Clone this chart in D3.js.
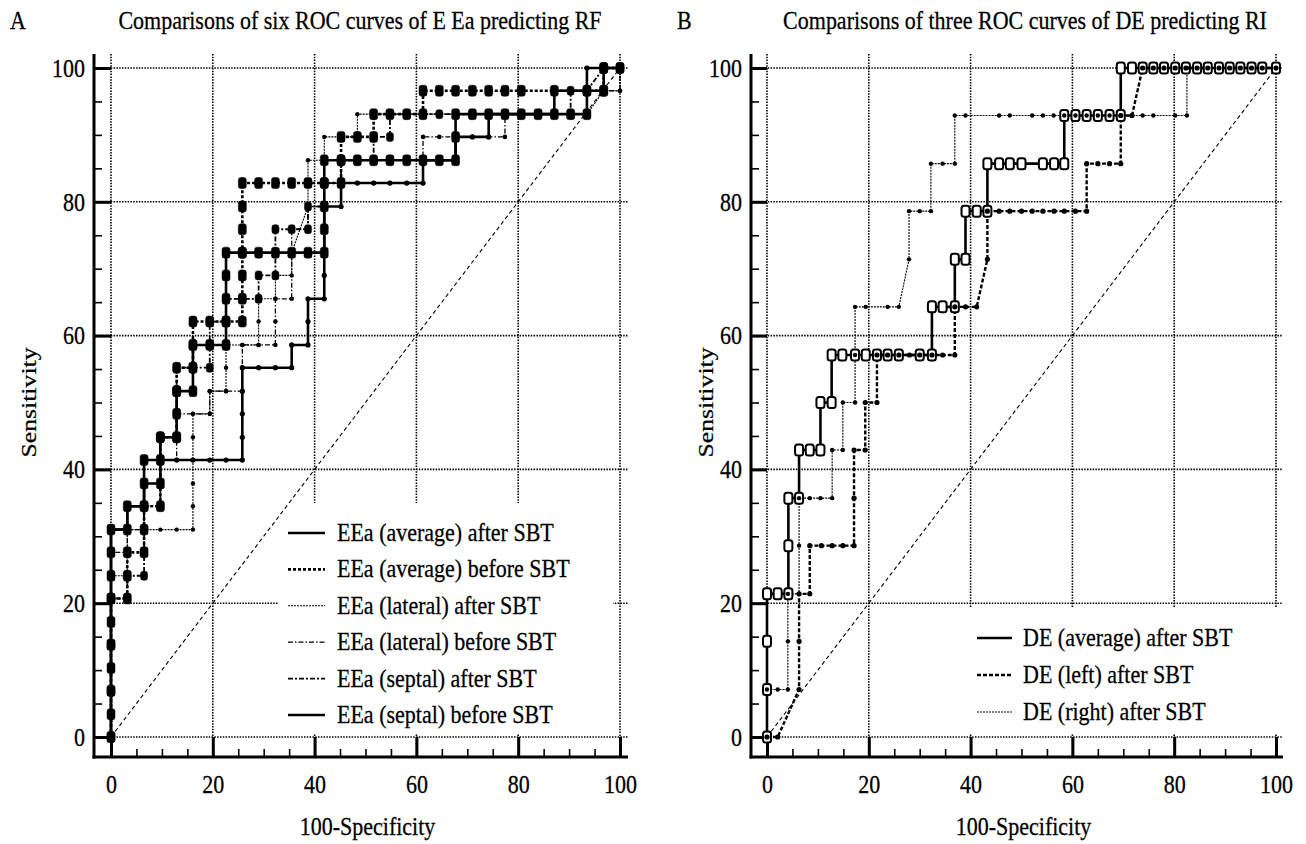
<!DOCTYPE html>
<html>
<head>
<meta charset="utf-8">
<script src="https://cdn.jsdelivr.net/npm/d3@7"></script>
<style>
  body { margin: 0; background: #fff; }
  text { font-family: 'Liberation Serif', 'Times New Roman', serif; font-size: 22px; fill: #000; stroke: #000; stroke-width: 0.25px; }
</style>
</head>
<body>
<script>
// ---- data ----
const xTickValues = [0, 20, 40, 60, 80, 100]
const yTickValues = [0, 20, 40, 60, 80, 100]
const minorTickValues = d3.range(0, 101, 5).filter(d => d % 20 !== 0)

const titleA = 'Comparisons of six ROC curves of E Ea predicting RF'
const titleB = 'Comparisons of three ROC curves of DE predicting RI'
const xLabel = '100-Specificity'
const yLabel = 'Sensitivity'

const namesA = [
  'EEa (average) after SBT',
  'EEa (average) before SBT',
  'EEa (lateral) after SBT',
  'EEa (lateral) before SBT',
  'EEa (septal) after SBT',
  'EEa (septal) before SBT'
]
const namesB = ['DE (average) after SBT', 'DE (left) after SBT', 'DE (right) after SBT']

// [100-specificity, sensitivity]
const eeaAvgAfter = [[0,0],[0,3.4],[0,6.9],[0,10.3],[0,13.8],[0,17.2],[0,20.7],[0,24.1],[0,27.6],[0,31.0],[3.2,31.0],[3.2,34.5],[6.5,34.5],[6.5,37.9],[6.5,41.4],[9.7,41.4],[9.7,44.8],[12.9,44.8],[12.9,48.3],[12.9,51.7],[16.1,51.7],[16.1,55.2],[16.1,58.6],[19.4,58.6],[22.6,58.6],[22.6,62.1],[22.6,65.5],[22.6,69.0],[22.6,72.4],[25.8,72.4],[29.0,72.4],[32.3,72.4],[35.5,72.4],[38.7,72.4],[41.9,72.4],[41.9,75.9],[41.9,79.3],[41.9,82.8],[41.9,86.2],[45.2,86.2],[48.4,86.2],[51.6,86.2],[54.8,86.2],[58.1,86.2],[61.3,86.2],[64.5,86.2],[67.7,86.2],[67.7,89.7],[67.7,93.1],[71.0,93.1],[74.2,93.1],[77.4,93.1],[80.6,93.1],[83.9,93.1],[87.1,93.1],[90.3,93.1],[93.5,93.1],[93.5,96.6],[96.8,96.6],[96.8,100],[100,100]]
const eeaAvgBefore = [[0,0],[0,6.9],[0,13.8],[0,20.7],[3.2,20.7],[3.2,24.1],[3.2,27.6],[6.5,27.6],[6.5,31.0],[6.5,34.5],[9.7,34.5],[9.7,37.9],[9.7,44.8],[12.9,44.8],[12.9,51.7],[12.9,55.2],[16.1,55.2],[16.1,58.6],[16.1,62.1],[19.4,62.1],[22.6,62.1],[25.8,62.1],[25.8,65.5],[25.8,69.0],[25.8,72.4],[25.8,75.9],[25.8,79.3],[25.8,82.8],[29.0,82.8],[32.3,82.8],[35.5,82.8],[38.7,82.8],[41.9,82.8],[45.2,82.8],[45.2,86.2],[45.2,89.7],[48.4,89.7],[51.6,89.7],[51.6,93.1],[54.8,93.1],[58.1,93.1],[61.3,93.1],[61.3,96.6],[64.5,96.6],[67.7,96.6],[71.0,96.6],[74.2,96.6],[77.4,96.6],[80.6,96.6],[87.1,96.6],[93.5,96.6],[96.8,96.6],[96.8,100],[100,100]]
const eeaLatAfter = [[0,0],[0,13.8],[0,24.1],[3.2,24.1],[3.2,27.6],[3.2,31.0],[6.5,31.0],[9.7,31.0],[12.9,31.0],[16.1,31.0],[16.1,34.5],[16.1,37.9],[16.1,41.4],[16.1,44.8],[16.1,48.3],[19.4,48.3],[19.4,51.7],[22.6,51.7],[22.6,55.2],[22.6,58.6],[25.8,58.6],[29.0,58.6],[29.0,62.1],[29.0,65.5],[32.3,65.5],[32.3,69.0],[35.5,69.0],[35.5,72.4],[38.7,79.3],[38.7,82.8],[38.7,86.2],[41.9,86.2],[41.9,89.7],[45.2,89.7],[48.4,89.7],[48.4,93.1],[54.8,93.1],[61.3,93.1],[67.7,93.1],[74.2,93.1],[80.6,93.1],[87.1,93.1],[93.5,93.1],[96.8,96.6],[100,96.6],[100,100]]
const eeaLatBefore = [[0,0],[0,20.7],[0,27.6],[3.2,27.6],[3.2,31.0],[6.5,31.0],[6.5,37.9],[9.7,37.9],[9.7,41.4],[12.9,41.4],[12.9,48.3],[16.1,48.3],[19.4,48.3],[19.4,51.7],[22.6,51.7],[25.8,51.7],[25.8,55.2],[25.8,58.6],[29.0,58.6],[32.3,58.6],[32.3,62.1],[32.3,65.5],[35.5,65.5],[35.5,72.4],[35.5,75.9],[38.7,75.9],[38.7,79.3],[41.9,79.3],[41.9,82.8],[45.2,82.8],[48.4,82.8],[51.6,82.8],[54.8,82.8],[58.1,82.8],[61.3,82.8],[61.3,86.2],[61.3,89.7],[64.5,89.7],[67.7,89.7],[71.0,89.7],[74.2,89.7],[77.4,89.7],[77.4,93.1],[83.9,93.1],[90.3,93.1],[93.5,93.1],[93.5,96.6],[96.8,96.6],[100,96.6],[100,100]]
const eeaSepAfter = [[0,0],[0,10.3],[0,20.7],[3.2,20.7],[3.2,24.1],[6.5,24.1],[6.5,27.6],[6.5,31.0],[6.5,34.5],[9.7,34.5],[9.7,41.4],[9.7,44.8],[12.9,44.8],[12.9,48.3],[12.9,55.2],[16.1,55.2],[19.4,55.2],[19.4,58.6],[19.4,62.1],[22.6,62.1],[22.6,65.5],[25.8,65.5],[29.0,65.5],[29.0,69.0],[32.3,69.0],[32.3,72.4],[32.3,75.9],[35.5,75.9],[38.7,75.9],[38.7,79.3],[41.9,79.3],[41.9,82.8],[45.2,82.8],[45.2,86.2],[48.4,86.2],[51.6,86.2],[51.6,89.7],[54.8,89.7],[54.8,93.1],[58.1,93.1],[64.5,93.1],[71.0,93.1],[77.4,93.1],[83.9,93.1],[90.3,93.1],[90.3,96.6],[93.5,96.6],[96.8,100],[100,100]]
const eeaSepBefore = [[0,0],[0,6.9],[0,17.2],[0,27.6],[0,31.0],[3.2,31.0],[3.2,34.5],[6.5,34.5],[6.5,37.9],[9.7,37.9],[9.7,41.4],[12.9,41.4],[16.1,41.4],[19.4,41.4],[22.6,41.4],[25.8,41.4],[25.8,44.8],[25.8,48.3],[25.8,51.7],[25.8,55.2],[29.0,55.2],[32.3,55.2],[35.5,55.2],[35.5,58.6],[38.7,58.6],[38.7,62.1],[38.7,65.5],[41.9,65.5],[41.9,69.0],[41.9,72.4],[41.9,75.9],[41.9,79.3],[45.2,79.3],[45.2,82.8],[48.4,82.8],[51.6,82.8],[54.8,82.8],[58.1,82.8],[61.3,82.8],[61.3,86.2],[64.5,86.2],[67.7,86.2],[67.7,89.7],[71.0,89.7],[74.2,89.7],[74.2,93.1],[77.4,93.1],[80.6,93.1],[87.1,93.1],[87.1,96.6],[90.3,96.6],[93.5,96.6],[93.5,100],[96.8,100],[100,100]]

const deAverage = [[0,0],[0,7.1],[0,14.3],[0,21.4],[2.1,21.4],[4.2,21.4],[4.2,28.6],[4.2,35.7],[6.3,35.7],[6.3,42.9],[8.4,42.9],[10.5,42.9],[10.5,50],[12.7,50],[12.7,57.1],[14.8,57.1],[17.3,57.1],[19.4,57.1],[21.6,57.1],[23.7,57.1],[25.9,57.1],[30,57.1],[32.4,57.1],[32.4,64.3],[34.5,64.3],[36.9,64.3],[36.9,71.4],[39,71.4],[39,78.6],[41.2,78.6],[43.3,78.6],[43.3,85.7],[45.6,85.7],[47.7,85.7],[50,85.7],[54.2,85.7],[56.4,85.7],[58.4,85.7],[58.4,92.9],[60.6,92.9],[62.8,92.9],[65,92.9],[67.3,92.9],[69.5,92.9],[69.5,100],[71.7,100],[73.8,100],[75.9,100],[78,100],[80.2,100],[82.3,100],[84.5,100],[86.6,100],[88.8,100],[90.9,100],[93,100],[95.2,100],[97.3,100],[100,100]]
const deLeft = [[0,0],[2.1,0],[6.3,7.1],[6.3,14.3],[6.3,21.4],[8.4,21.4],[8.4,28.6],[10.7,28.6],[12.8,28.6],[14.9,28.6],[17.1,28.6],[17.1,35.7],[17.1,42.9],[19.3,42.9],[19.3,50],[21.6,50],[21.6,57.1],[23.7,57.1],[25.9,57.1],[28,57.1],[30,57.1],[32.4,57.1],[34.5,57.1],[36.9,57.1],[36.9,64.3],[39,64.3],[41.2,64.3],[43.3,71.4],[43.3,78.6],[45.6,78.6],[47.7,78.6],[50,78.6],[52.1,78.6],[54.2,78.6],[56.4,78.6],[58.4,78.6],[60.6,78.6],[62.8,78.6],[62.8,85.7],[65,85.7],[67.3,85.7],[69.5,85.7],[69.5,92.9],[71.7,92.9],[73.8,100],[75.9,100],[78,100],[80.2,100],[82.3,100],[84.5,100],[86.6,100],[88.8,100],[90.9,100],[93,100],[95.2,100],[97.3,100],[100,100]]
const deRight = [[0,0],[0,7.1],[2.1,7.1],[4.1,7.1],[4.1,14.3],[4.1,21.4],[6.3,21.4],[6.3,28.6],[6.3,35.7],[8.4,35.7],[10.5,35.7],[12.8,35.7],[12.8,42.9],[14.9,42.9],[14.9,50],[17.3,50],[17.3,57.1],[17.3,64.3],[19.4,64.3],[23.7,64.3],[25.9,64.3],[27.9,71.4],[27.9,78.6],[30,78.6],[32.2,78.6],[32.2,85.7],[34.5,85.7],[36.9,85.7],[36.9,92.9],[39,92.9],[45.6,92.9],[47.7,92.9],[52.1,92.9],[54.2,92.9],[56.3,92.9],[58.4,92.9],[60.6,92.9],[62.8,92.9],[65,92.9],[67.3,92.9],[69.5,92.9],[71.7,92.9],[73.8,92.9],[75.9,92.9],[80.2,92.9],[82.5,92.9],[82.5,100],[100,100]]

const valuesA = [eeaAvgAfter, eeaAvgBefore, eeaLatAfter, eeaLatBefore, eeaSepAfter, eeaSepBefore]
const valuesB = [deAverage, deLeft, deRight]

// ---- styles / layout ----
const stylesA = [
  { dash: null, w: 2.6, marker: 'rect', mw: 8, mh: 11 },
  { dash: '3,2', w: 2.6, marker: 'rect', mw: 8, mh: 11 },
  { dash: '2,1', w: 1.1, marker: 'dot', r: 2.2 },
  { dash: '5,2,1.5,2', w: 1.3, marker: 'dot', r: 2.3 },
  { dash: '5,2,2,2', w: 1.8, marker: 'rect', mw: 7, mh: 9 },
  { dash: null, w: 2.6, marker: 'dot', r: 2.6 }
]
const stylesB = [
  { dash: null, w: 2.6, marker: 'open', mw: 8, mh: 11 },
  { dash: '4,2', w: 2.4, marker: 'dot', r: 2.6 },
  { dash: '2,1', w: 1.1, marker: 'dot', r: 2.2 }
]

const W = 1306, H = 844
const plotTop = 54, axisY = 757
const yScale = d3.scaleLinear().domain([0, 100]).range([737, 68])
const stretch = 1.17

const svg = d3.select('body').append('svg').attr('width', W).attr('height', H)

function label (g, txt, x, y, anchor, rotated) {
  return g.append('text')
    .attr('transform', `translate(${x},${y})` + (rotated ? ` rotate(-90) scale(${stretch},1)` : ` scale(1,${stretch})`))
    .attr('text-anchor', anchor)
    .text(txt)
}

function drawPanel (cfg) {
  const g = svg.append('g')
  const x = d3.scaleLinear().domain([0, 100]).range([cfg.x0, cfg.x1])
  const y = yScale

  // grid
  g.append('g').selectAll('line').data(xTickValues).join('line')
    .attr('x1', d => x(d)).attr('x2', d => x(d))
    .attr('y1', plotTop).attr('y2', axisY)
  g.append('g').selectAll('line').data(yTickValues).join('line')
    .attr('x1', cfg.axisX).attr('x2', cfg.right)
    .attr('y1', d => y(d)).attr('y2', d => y(d))
  g.selectAll('g line')
    .attr('stroke', '#000').attr('stroke-width', 1.6).attr('stroke-dasharray', '1.5,1.3')

  // legend background hides the grid
  const lb = cfg.legendBox
  g.append('rect').attr('x', lb[0]).attr('y', lb[1])
    .attr('width', lb[2] - lb[0]).attr('height', lb[3] - lb[1]).attr('fill', '#fff')

  // diagonal
  g.append('line')
    .attr('x1', x(0)).attr('y1', y(0)).attr('x2', x(100)).attr('y2', y(100))
    .attr('stroke', '#000').attr('stroke-width', 1.1).attr('stroke-dasharray', '4,3')

  // axes
  g.append('line').attr('x1', cfg.axisX).attr('x2', cfg.axisX).attr('y1', plotTop).attr('y2', axisY + 1.5)
    .attr('stroke', '#000').attr('stroke-width', 3)
  g.append('line').attr('x1', cfg.axisX - 1.5).attr('x2', cfg.right).attr('y1', axisY).attr('y2', axisY)
    .attr('stroke', '#000').attr('stroke-width', 3)

  const tickAxes = [
    [d3.axisRight(y).tickValues(yTickValues).tickSize(x(0) - cfg.axisX), `translate(${cfg.axisX},0)`, 3],
    [d3.axisRight(y).tickValues(minorTickValues).tickSize(8), `translate(${cfg.axisX},0)`, 1.6],
    [d3.axisTop(x).tickValues(xTickValues).tickSize(axisY - y(0)), `translate(0,${axisY})`, 3],
    [d3.axisTop(x).tickValues(minorTickValues).tickSize(8), `translate(0,${axisY})`, 1.6]
  ]
  tickAxes.forEach(([ax, tr, sw]) => {
    const a = g.append('g').attr('transform', tr).call(ax.tickFormat(''))
    a.select('.domain').remove()
    a.selectAll('line').attr('stroke-width', sw)
  })

  const yl = g.append('g').attr('transform', `translate(${cfg.axisX},0)`)
    .call(d3.axisLeft(y).tickValues(yTickValues).tickSize(0).tickPadding(9))
  yl.select('.domain').remove()
  yl.selectAll('text').attr('transform', `scale(1,${stretch})`)

  const xl = g.append('g').attr('transform', `translate(0,${axisY})`)
    .call(d3.axisBottom(x).tickValues(xTickValues).tickSize(0).tickPadding(15.5))
  xl.select('.domain').remove()
  xl.selectAll('text').attr('transform', `scale(1,${stretch})`)

  // curves
  const line = d3.line().x(d => x(d[0])).y(d => y(d[1]))
  cfg.series.forEach((s, i) => {
    const st = cfg.styles[i]
    g.append('path').datum(s.values).attr('d', line)
      .attr('fill', 'none').attr('stroke', '#000').attr('stroke-width', st.w)
      .attr('stroke-dasharray', st.dash)
  })
  cfg.series.forEach((s, i) => {
    const st = cfg.styles[i]
    const mg = g.append('g')
    if (st.marker === 'dot') {
      mg.selectAll('circle').data(s.values).join('circle')
        .attr('cx', d => x(d[0])).attr('cy', d => y(d[1])).attr('r', st.r).attr('fill', '#000')
    } else {
      const open = st.marker === 'open'
      mg.selectAll('rect').data(s.values).join('rect')
        .attr('x', d => x(d[0]) - st.mw / 2).attr('y', d => y(d[1]) - st.mh / 2)
        .attr('width', st.mw).attr('height', st.mh).attr('rx', 2.5)
        .attr('fill', open ? '#fff' : '#000').attr('stroke', '#000').attr('stroke-width', open ? 2 : 0.5)
    }
  })

  // legend
  cfg.series.forEach((s, i) => {
    const st = cfg.styles[i]
    const ly = cfg.legendY0 + i * cfg.legendStep
    g.append('line').attr('x1', cfg.legendLine[0]).attr('x2', cfg.legendLine[1])
      .attr('y1', ly).attr('y2', ly)
      .attr('stroke', '#000').attr('stroke-width', st.w).attr('stroke-dasharray', st.dash)
    label(g, s.name, cfg.legendTextX, ly + 8, 'start')
  })

  // titles
  label(g, cfg.letter, cfg.letterX, 29, 'start')
  label(g, cfg.title, cfg.titleX, 29, 'middle')
  label(g, xLabel, (cfg.x0 + cfg.x1) / 2 + 2, 835, 'middle')
  label(g, yLabel, cfg.yLabelX, (y(0) + y(100)) / 2, 'middle', true)
}

drawPanel({
  x0: 111, x1: 620, axisX: 94, right: 628,
  letter: 'A', letterX: 10, title: titleA, titleX: 360, yLabelX: 36,
  series: namesA.map((n, i) => ({ name: n, values: valuesA[i] })),
  styles: stylesA,
  legendBox: [278, 503, 613, 733],
  legendLine: [288, 325], legendTextX: 337, legendY0: 533, legendStep: 36.4
})

drawPanel({
  x0: 767, x1: 1276, axisX: 751, right: 1283,
  letter: 'B', letterX: 677, title: titleB, titleX: 1025, yLabelX: 713,
  series: namesB.map((n, i) => ({ name: n, values: valuesB[i] })),
  styles: stylesB,
  legendBox: [962, 607, 1283, 733],
  legendLine: [977, 1012], legendTextX: 1023, legendY0: 638, legendStep: 37
})
</script>
</body>
</html>
